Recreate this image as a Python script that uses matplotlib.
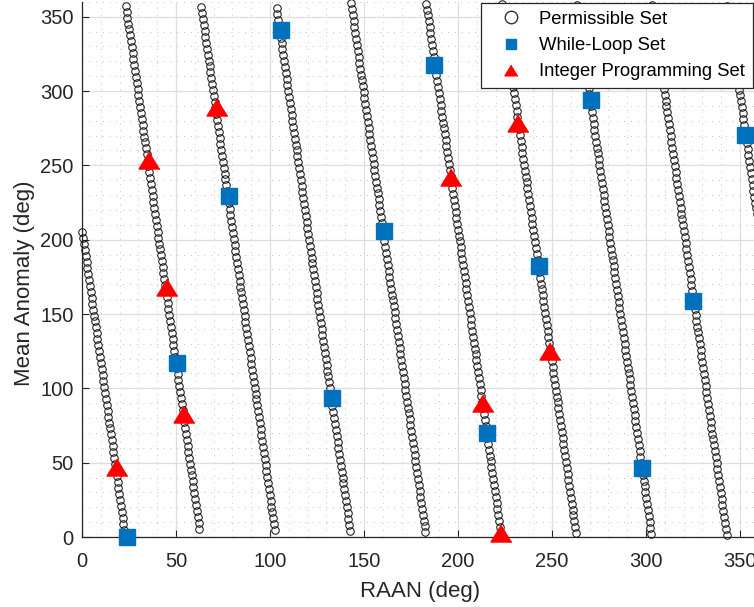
import numpy as np
import matplotlib.pyplot as plt
from matplotlib.lines import Line2D
from matplotlib.ticker import MultipleLocator

plt.rcParams['font.family'] = ['Liberation Sans', 'DejaVu Sans']

# --- permissible set: one line of candidate slots per orbital plane ---
plane_raan0 = [23.0, 63.0, 103.0, 143.0, 183.0, 223.0, 263.0, 303.0, 343.0]  # RAAN at M = 0 (deg)
plane_m_start = [1.0, 5.4, 4.5, 4.0, 3.1, 2.8, 2.5, 2.0, 1.6]                # first sampled M (deg)
m_step = 4.0           # mean anomaly spacing between slots (deg)
raan_per_ma = 1.0 / 9  # RAAN shift per degree of mean anomaly

# --- while-loop selection ---
wl_raan = [23.7, 50.3, 78.0, 105.6, 133.2, 160.7, 187.3, 215.4, 243.0, 270.6, 298.1, 325.2, 352.8]
wl_ma = [0.0, 117.1, 229.5, 341.2, 93.5, 206.0, 317.6, 70.0, 182.4, 294.0, 46.4, 158.8, 270.5]

# --- integer programming selection ---
ip_raan = [18.7, 35.5, 45.1, 54.3, 71.6, 196.3, 213.4, 222.6, 231.8, 248.8]
ip_ma = [47.1, 253.5, 168.0, 82.8, 289.2, 242.3, 90.0, 3.0, 278.6, 125.2]

perm_raan, perm_ma = [], []
for r0, m0 in zip(plane_raan0, plane_m_start):
    ma = np.arange(m0, 360.0, m_step)
    perm_raan.append(np.mod(r0 - raan_per_ma * ma, 360.0))
    perm_ma.append(ma)
perm_raan = np.concatenate(perm_raan)
perm_ma = np.concatenate(perm_ma)

blue = '#0072BD'
red = '#FF0000'
dark = '#262626'

fig = plt.figure(figsize=(7.54, 6.07), dpi=100)
ax = fig.add_axes([0.1088, 0.1153, 0.8976, 0.8817])

# triangle a bit wider than tall
tri = [(0, 0.82), (-1, -0.82), (1, -0.82)]

ax.plot(perm_raan, perm_ma, 'o', ms=5.4, mfc='none', mec='#1a1a1a', mew=0.75,
        clip_on=False, zorder=3)
ax.plot(wl_raan, wl_ma, 's', ms=11.5, color=blue, mec=blue, clip_on=False, zorder=4)
ax.plot(ip_raan, ip_ma, marker=tri, ls='none', ms=15, color=red, mec=red,
        clip_on=False, zorder=5)

ax.set_xlim(0, 360)
ax.set_ylim(0, 360)
ax.xaxis.set_major_locator(MultipleLocator(50))
ax.yaxis.set_major_locator(MultipleLocator(50))
ax.xaxis.set_minor_locator(MultipleLocator(10))
ax.yaxis.set_minor_locator(MultipleLocator(10))

ax.grid(True, which='major', color='#dedede', lw=0.9, zorder=0)
ax.grid(True, which='minor', color='#c6c6c6', lw=0.75, ls=(0, (1, 5.5)), zorder=0)
ax.set_axisbelow(True)

ax.tick_params(which='major', direction='in', length=5, width=0.8, color=dark,
               labelcolor=dark, labelsize=14.5)
ax.tick_params(axis='x', which='major', pad=11)
ax.tick_params(axis='y', which='major', pad=6)
ax.tick_params(which='minor', length=0)

for side in ('left', 'bottom'):
    ax.spines[side].set_color(dark)
    ax.spines[side].set_linewidth(0.9)
ax.spines['top'].set_visible(False)
ax.spines['right'].set_visible(False)

ax.set_xlabel('RAAN (deg)', fontsize=16, color=dark)
ax.set_ylabel('Mean Anomaly (deg)', fontsize=16, color=dark)
ax.xaxis.set_label_coords(0.5, -0.083)
ax.yaxis.set_label_coords(-0.069, 0.475)

handles = [
    Line2D([], [], ls='none', marker='o', ms=9, mfc='white', mec='#333333', mew=1.0),
    Line2D([], [], ls='none', marker='s', ms=6.7, color=blue),
    Line2D([], [], ls='none', marker=tri, ms=9.4, color=red),
]
labels = ['Permissible Set', 'While-Loop Set', 'Integer Programming Set']
leg = fig.legend(handles, labels, loc='upper right',
                 bbox_to_anchor=(753 / 754, (607 - 3) / 607),
                 bbox_transform=fig.transFigure, fontsize=13.3, frameon=True,
                 fancybox=False, framealpha=1, edgecolor=dark, borderpad=0.42,
                 handlelength=2.4, handletextpad=0.35, labelspacing=0.5,
                 borderaxespad=0)
leg.get_frame().set_linewidth(0.9)
for t in leg.get_texts():
    t.set_color('black')

fig.savefig('out.png', dpi=100)
